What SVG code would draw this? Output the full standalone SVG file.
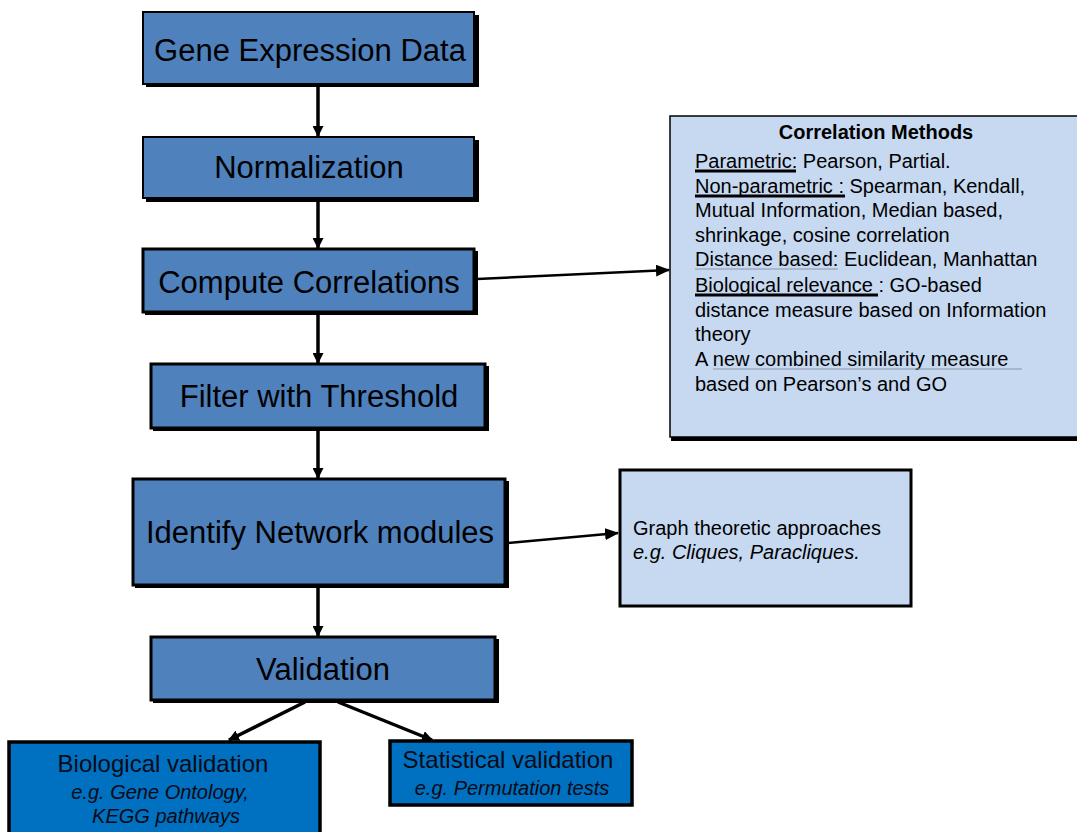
<svg xmlns="http://www.w3.org/2000/svg" width="1077" height="832" viewBox="0 0 1077 832">
<style>
.main{fill:#4F81BD;stroke:#000;stroke-width:2}
.shadow{fill:#000}
.light{fill:#C6D9F1;stroke:#000;stroke-width:2}
.dark{fill:#0070C0;stroke:#000;stroke-width:3.5}
.t{font-family:"Liberation Sans",Arial,sans-serif;fill:#000}
.big{font-size:31px;text-anchor:middle}
.mid{font-size:24px;text-anchor:middle;fill:#0a0a14}
.it{font-size:20px;font-style:italic;text-anchor:middle;fill:#0a0a14}
.sm{font-size:20px}
.conn{stroke:#000;stroke-width:3.5;fill:none}
.conn2{stroke:#000;stroke-width:2.5;fill:none}
.ul{stroke:#000;stroke-width:3}
.ulg{stroke:#8a96a8;stroke-width:1.2}
</style>
<defs>
<marker id="ah" markerWidth="11" markerHeight="11" refX="10" refY="5.5" orient="auto" markerUnits="userSpaceOnUse" viewBox="0 0 11 11">
<path d="M0,0 L11,5.5 L0,11 z" fill="#000"/>
</marker>
<marker id="ah2" markerWidth="14" markerHeight="12" refX="13" refY="6" orient="auto" markerUnits="userSpaceOnUse" viewBox="0 0 14 12">
<path d="M0,0 L14,6 L0,12 z" fill="#000"/>
</marker>
</defs>
<rect width="1077" height="832" fill="#fff"/>

<g id="connectors">
<line class="conn" x1="318" y1="86" x2="318" y2="136" marker-end="url(#ah)"/>
<line class="conn" x1="318" y1="201" x2="318" y2="248" marker-end="url(#ah)"/>
<line class="conn" x1="318" y1="315" x2="318" y2="363" marker-end="url(#ah)"/>
<line class="conn" x1="318" y1="431" x2="318" y2="478" marker-end="url(#ah)"/>
<line class="conn" x1="318" y1="588" x2="318" y2="636" marker-end="url(#ah)"/>
<line class="conn2" x1="477" y1="279" x2="669" y2="270" marker-end="url(#ah2)"/>
<line class="conn2" x1="508" y1="543" x2="618" y2="533" marker-end="url(#ah2)"/>
<line class="conn" x1="305" y1="702" x2="229" y2="740" marker-end="url(#ah)"/>
<line class="conn" x1="338" y1="702" x2="432" y2="740" marker-end="url(#ah)"/>
</g>

<g id="n1">
<rect class="shadow" x="146" y="15" width="333" height="72"/>
<rect class="main" x="143" y="12" width="331" height="72"/>
<text class="t big" x="310" y="61">Gene Expression Data</text>
</g>
<g id="n2">
<rect class="shadow" x="146" y="140" width="333" height="62"/>
<rect class="main" x="143" y="137" width="331" height="61"/>
<text class="t big" x="309" y="178">Normalization</text>
</g>
<g id="n3">
<rect class="shadow" x="145" y="251" width="333" height="64"/>
<rect class="main" x="143" y="249" width="331" height="63" style="stroke-width:3"/>
<text class="t big" x="309" y="293">Compute Correlations</text>
</g>
<g id="n4">
<rect class="shadow" x="153" y="366" width="336" height="65"/>
<rect class="main" x="151" y="364" width="334" height="64" style="stroke-width:3"/>
<text class="t big" x="319" y="407">Filter with Threshold</text>
</g>
<g id="n5">
<rect class="shadow" x="135" y="481" width="374" height="107"/>
<rect class="main" x="133" y="479" width="372" height="106" style="stroke-width:3"/>
<text class="t big" x="320" y="543">Identify Network modules</text>
</g>
<g id="n6">
<rect class="shadow" x="153" y="639" width="346" height="64"/>
<rect class="main" x="151" y="637" width="344" height="63" style="stroke-width:3"/>
<text class="t big" x="323" y="680">Validation</text>
</g>

<g id="n7">
<rect class="shadow" x="671" y="118" width="420" height="323"/>
<rect class="light" x="670" y="116" width="420" height="321" style="stroke-width:1.5"/>
<text class="t sm" x="876" y="139" style="font-weight:bold;text-anchor:middle">Correlation Methods</text>
<text class="t sm" x="695" y="168">Parametric: Pearson, Partial.</text>
<text class="t sm" x="695" y="193">Non-parametric : Spearman, Kendall,</text>
<text class="t sm" x="695" y="217">Mutual Information,  Median based,</text>
<text class="t sm" x="695" y="242">shrinkage, cosine correlation</text>
<text class="t sm" x="695" y="266">Distance based: Euclidean, Manhattan</text>
<text class="t sm" x="695" y="292">Biological relevance : GO-based</text>
<text class="t sm" x="695" y="317">distance measure based on Information</text>
<text class="t sm" x="695" y="341">theory</text>
<text class="t sm" x="695" y="366">A new combined similarity measure</text>
<text class="t sm" x="695" y="391">based on Pearson’s and GO</text>
<line class="ul" x1="695" y1="171" x2="796" y2="171"/>
<line class="ul" x1="695" y1="196" x2="845" y2="196"/>
<line class="ulg" x1="695" y1="269" x2="838" y2="269"/>
<line class="ul" x1="695" y1="295" x2="878" y2="295"/>
<line class="ulg" x1="713" y1="369" x2="1022" y2="369"/>
</g>

<g id="n8">
<rect class="light" x="620" y="470" width="291" height="136" style="stroke-width:3"/>
<text class="t sm" x="633" y="535">Graph theoretic approaches</text>
<text class="t sm" x="633" y="559" style="font-style:italic">e.g. Cliques, Paracliques.</text>
</g>

<g id="n9">
<rect class="dark" x="9" y="742" width="311" height="100"/>
<text class="t mid" x="163" y="772">Biological validation</text>
<text class="t it" x="160" y="799">e.g. Gene Ontology,</text>
<text class="t it" x="166" y="823">KEGG pathways</text>
</g>
<g id="n10">
<rect class="dark" x="390" y="741" width="242" height="64"/>
<text class="t mid" x="508" y="768">Statistical validation</text>
<text class="t it" x="512" y="795">e.g. Permutation tests</text>
</g>
</svg>
